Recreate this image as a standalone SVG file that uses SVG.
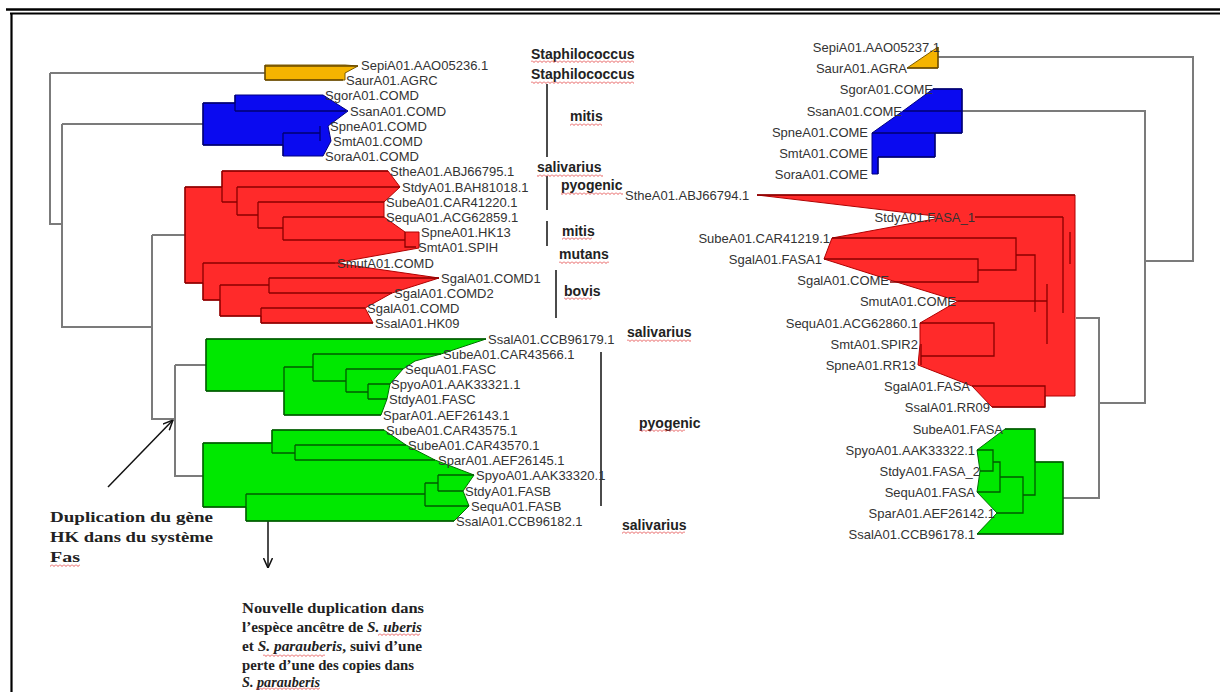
<svg xmlns="http://www.w3.org/2000/svg" width="1220" height="692" viewBox="0 0 1220 692">
<style>
.lb{font-family:"Liberation Sans",Arial,sans-serif;font-size:13px;fill:#333}
.lr{text-anchor:end}
.cl{font-family:"Liberation Sans",Arial,sans-serif;font-size:14px;font-weight:bold;fill:#222}
.an{font-family:"Liberation Serif","Times New Roman",serif;font-size:15px;font-weight:bold;fill:#222}
.tr{fill:none;stroke:#7b7b7b;stroke-width:2}
.bar{fill:none;stroke:#111;stroke-width:1.5}
.sq{fill:url(#wavy)}
.red{fill:#ff2a2a;stroke:#b00000;stroke-width:1}
.grn{fill:#00e800;stroke:#007000;stroke-width:1}
.blu{fill:#0a0af0;stroke:#000080;stroke-width:1}
.org{fill:#f5b400;stroke:#7a5a00;stroke-width:1}
.rb{fill:none;stroke:#8a0000;stroke-width:1.3}
.gb{fill:none;stroke:#005a00;stroke-width:1.3}
.bb{fill:none;stroke:#000070;stroke-width:1.3}
.ob{fill:none;stroke:#6a4a00;stroke-width:1.3}
.arr{fill:none;stroke:#111;stroke-width:1.5;marker-end:url(#ah)}
</style>
<defs>
<pattern id="wavy" width="4" height="3" patternUnits="userSpaceOnUse"><path d="M0,0.5 L2,2.5 L4,0.5" fill="none" stroke="#e03030" stroke-width="0.8"/></pattern>
<marker id="ah" viewBox="0 0 10 10" refX="10" refY="5" markerWidth="10" markerHeight="10" markerUnits="userSpaceOnUse" orient="auto"><path d="M0,0.5 L10,5 L0,9.5" fill="none" stroke="#111" stroke-width="1.5"/></marker>
</defs>
<rect width="1220" height="692" fill="#fff"/>
<g id="frame" fill="none" stroke="#000">
<path d="M6,9.5 H1220" stroke-width="2.5"/>
<path d="M10,13.5 H1220" stroke-width="1.8"/>
<path d="M11.5,13 V692" stroke-width="2.2"/>
</g>
<g id="connectors">
<path class="tr" d="M50,73 H265 M50,73 V224 H62 M62,124 H203 M62,124 V327 H152 M152,235 H185 M152,235 V419 H175 M175,365 H206 M175,365 V476 H203"/>
<path class="tr" d="M938,57 H1193 V261 H1145 M962,111 H1145 V403 H1099 M1076,318 H1099 V498 H1063"/>
<path class="bar" d="M547,84 V157 M547,176 V210 M547,221 V246 M556,270 V318 M601,352 V506"/>
<path class="arr" d="M108,487 L173,420"/>
<path class="arr" d="M268,447 V568"/>
</g>
<g id="left-orange">
<polygon class="org" points="265,65 345,65 358,66 345,73 345,80 265,80"/>
<path class="ob" d="M265,65 V80 M265,66 H358 M265,80 H343"/>
</g>
<g id="left-blue">
<polygon class="blu" points="235,95 323,95 348,111 328,126 331,141 323,156 283,156 283,145 203,145 203,103 235,103"/>
<path class="bb" d="M203,103 V145 M203,103 H235 M203,145 H283 M235,95 V111 M235,111 H346 M283,133 V156 M283,133 H320 M320,126 V141"/>
</g>
<g id="left-red">
<polygon class="red" points="222,171 388,171 400,187 384,202 384,217 405,232 419,232 419,248 335,263 439,278 392,293 365,308 373,323 261,323 261,316 220,316 220,300 203,300 203,283 185,283 185,187 222,187"/>
<path class="rb" d="M185,187 V283 M185,187 H222 M185,283 H203 M222,171 V202 M222,171 H388 M222,202 H237 M237,187 V215 M237,187 H400 M237,215 H258 M258,202 V228 M258,202 H384 M258,228 H283 M283,217 V240 M283,217 H384 M283,240 H405 M405,232 V247 H416 M203,263 V300 M203,263 H335 M203,300 H220 M220,285 V316 M220,285 H269 M220,316 H261 M269,278 V293 M269,278 H439 M269,293 H392 M261,308 V323 M261,308 H365 M261,323 H373"/>
</g>
<g id="left-green-1">
<polygon class="grn" points="206,339 486,339 441,354 415,361 403,369 390,384 387,399 381,415 284,415 284,391 206,391"/>
<path class="gb" d="M206,339 V391 M206,339 H486 M206,391 H284 M284,367 V415 M284,367 H313 M284,415 H381 M313,354 V381 M313,354 H441 M313,381 H346 M346,369 V392 M346,369 H403 M346,392 H368 M368,384 V399 M368,384 H390 M368,399 H387"/>
</g>
<g id="left-green-2">
<polygon class="grn" points="272,430 384,430 406,445 435,460 474,475 463,491 469,506 454,521 246,521 246,507 203,507 203,443 272,443"/>
<path class="gb" d="M203,443 V507 M203,443 H272 M203,507 H246 M272,430 V453 M272,430 H384 M272,453 H295 M295,445 V460 M295,445 H406 M295,460 H435 M246,494 V521 M246,494 H425 M246,521 H454 M425,483 V506 M425,483 H438 M425,506 H469 M438,475 V491 M438,475 H474 M438,491 H463"/>
</g>
<g id="right-orange">
<polygon class="org" points="938,47 938,68 907,68"/>
<path class="ob" d="M938,47 V68 M907,68 H938"/>
</g>
<g id="right-blue">
<polygon class="blu" points="933,89 962,89 962,133 935,133 935,157 878,157 878,174 872,174 872,133 903,111"/>
<path class="bb" d="M962,89 V133 M933,89 H962 M903,111 H962 M872,133 H962 M935,133 V157 M878,157 H935 M878,157 V174"/>
</g>
<g id="right-red">
<polygon class="red" points="757,195 1075,195 1075,396 1045,396 1045,407 992,407 972,386 918,365 920,344 920,323 958,301 890,280 824,259 832,238 935,219 935,216"/>
<path class="rb" d="M757,195 H1075 M975,217 H1063 M1063,217 V313 M1070,232 V264 M832,238 H1016 V270 H978 M824,259 H978 V282 H890 M1016,255 H1035 V312 M958,301 H1047 M1047,284 V344 M920,323 H994 V356 H921 M921,344 V365 M972,386 H1045 V407 H992"/>
</g>
<g id="right-green">
<polygon class="grn" points="1005,429 1035,429 1035,462 1063,462 1063,534 977,534 997,513 977,492 980,471 977,450"/>
<path class="gb" d="M1005,429 H1035 V495 H1023 M977,450 H993 V471 H980 M993,462 H1000 V492 H977 M1000,477 H1023 V513 H997 M1035,462 H1063 V534 H977"/>
</g>
<g id="left-labels" class="lb">
<text x="361" y="69.5">SepiA01.AAO05236.1</text>
<text x="346" y="84.5">SaurA01.AGRC</text>
<text x="325" y="99.5">SgorA01.COMD</text>
<text x="350" y="115.5">SsanA01.COMD</text>
<text x="330" y="130.5">SpneA01.COMD</text>
<text x="333" y="145.5">SmtA01.COMD</text>
<text x="325" y="160.5">SoraA01.COMD</text>
<text x="390" y="175.5">StheA01.ABJ66795.1</text>
<text x="402" y="191.5">StdyA01.BAH81018.1</text>
<text x="386" y="206.5">SubeA01.CAR41220.1</text>
<text x="386" y="221.5">SequA01.ACG62859.1</text>
<text x="421" y="236.5">SpneA01.HK13</text>
<text x="418" y="251.5">SmtA01.SPIH</text>
<text x="337" y="267.5">SmutA01.COMD</text>
<text x="441" y="282.5">SgalA01.COMD1</text>
<text x="394" y="297.5">SgalA01.COMD2</text>
<text x="367" y="312.5">SgalA01.COMD</text>
<text x="375" y="327.5">SsalA01.HK09</text>
<text x="488" y="343.5">SsalA01.CCB96179.1</text>
<text x="443" y="358.5">SubeA01.CAR43566.1</text>
<text x="405" y="373.5">SequA01.FASC</text>
<text x="391" y="388.5">SpyoA01.AAK33321.1</text>
<text x="389" y="403.5">StdyA01.FASC</text>
<text x="383" y="419.5">SparA01.AEF26143.1</text>
<text x="386" y="434.5">SubeA01.CAR43575.1</text>
<text x="408" y="449.5">SubeA01.CAR43570.1</text>
<text x="438" y="464.5">SparA01.AEF26145.1</text>
<text x="476" y="479.5">SpyoA01.AAK33320.1</text>
<text x="465" y="495.5">StdyA01.FASB</text>
<text x="471" y="510.5">SequA01.FASB</text>
<text x="456" y="525.5">SsalA01.CCB96182.1</text>
</g>
<g id="right-labels" class="lb lr">
<text x="940" y="51.5">SepiA01.AAO05237.1</text>
<text x="907" y="72.5">SaurA01.AGRA</text>
<text x="933" y="93.5">SgorA01.COME</text>
<text x="902" y="115.5">SsanA01.COME</text>
<text x="868" y="136.5">SpneA01.COME</text>
<text x="868" y="157.5">SmtA01.COME</text>
<text x="868" y="178.5">SoraA01.COME</text>
<text x="625" y="199.5" style="text-anchor:start">StheA01.ABJ66794.1</text>
<text x="975" y="221.5">StdyA01.FASA_1</text>
<text x="830" y="242.5">SubeA01.CAR41219.1</text>
<text x="822" y="263.5">SgalA01.FASA1</text>
<text x="889" y="284.5">SgalA01.COME</text>
<text x="956" y="305.5">SmutA01.COME</text>
<text x="918" y="327.5">SequA01.ACG62860.1</text>
<text x="918" y="348.5">SmtA01.SPIR2</text>
<text x="916" y="369.5">SpneA01.RR13</text>
<text x="970" y="390.5">SgalA01.FASA</text>
<text x="990" y="411.5">SsalA01.RR09</text>
<text x="1003" y="433.5">SubeA01.FASA</text>
<text x="975" y="454.5">SpyoA01.AAK33322.1</text>
<text x="980" y="475.5">StdyA01.FASA_2</text>
<text x="975" y="496.5">SequA01.FASA</text>
<text x="995" y="517.5">SparA01.AEF26142.1</text>
<text x="975" y="538.5">SsalA01.CCB96178.1</text>
</g>
<g id="clade-names">
<text class="cl" x="531" y="58.5">Staphilococcus</text>
<text class="cl" x="531" y="79">Staphilococcus</text>
<text class="cl" x="570" y="121">mitis</text>
<text class="cl" x="537" y="172">salivarius</text>
<text class="cl" x="561" y="190">pyogenic</text>
<text class="cl" x="562" y="236">mitis</text>
<text class="cl" x="559" y="259">mutans</text>
<text class="cl" x="564" y="296">bovis</text>
<text class="cl" x="627" y="337">salivarius</text>
<text class="cl" x="639" y="428">pyogenic</text>
<text class="cl" x="622" y="530">salivarius</text>
<rect class="sq" x="531" y="60" width="103" height="3"/>
<rect class="sq" x="531" y="81" width="103" height="3"/>
<rect class="sq" x="570" y="123" width="32" height="3"/>
<rect class="sq" x="537" y="174" width="66" height="3"/>
<rect class="sq" x="561" y="192" width="62" height="3"/>
<rect class="sq" x="562" y="237" width="30" height="3"/>
<rect class="sq" x="559" y="261" width="50" height="3"/>
<rect class="sq" x="564" y="297" width="28" height="3"/>
<rect class="sq" x="627" y="339" width="64" height="3"/>
<rect class="sq" x="639" y="429" width="46" height="3"/>
<rect class="sq" x="622" y="531" width="63" height="3"/>
</g>
<g id="note-duplication">
<text class="an" x="50" y="522" textLength="163" lengthAdjust="spacingAndGlyphs">Duplication du gène</text>
<text class="an" x="50" y="542" textLength="163" lengthAdjust="spacingAndGlyphs">HK dans du système</text>
<text class="an" x="50" y="562" textLength="30" lengthAdjust="spacingAndGlyphs">Fas</text>
<rect class="sq" x="50" y="564" width="30" height="3"/>
</g>
<g id="note-nouvelle">
<text class="an" x="242" y="613" textLength="182" lengthAdjust="spacingAndGlyphs">Nouvelle duplication dans</text>
<text class="an" x="242" y="632" textLength="180" lengthAdjust="spacingAndGlyphs">l’espèce ancêtre de <tspan font-style="italic">S. uberis</tspan></text>
<text class="an" x="242" y="651" textLength="180" lengthAdjust="spacingAndGlyphs">et <tspan font-style="italic">S. parauberis</tspan>, suivi d’une</text>
<text class="an" x="242" y="670" textLength="172" lengthAdjust="spacingAndGlyphs">perte d’une des copies dans</text>
<text class="an" x="242" y="687" textLength="78" lengthAdjust="spacingAndGlyphs"><tspan font-style="italic">S. parauberis</tspan></text>
<rect class="sq" x="378" y="633" width="42" height="3"/>
<rect class="sq" x="263" y="654" width="62" height="3"/>
<rect class="sq" x="256" y="687" width="64" height="3"/>
</g>
</svg>
